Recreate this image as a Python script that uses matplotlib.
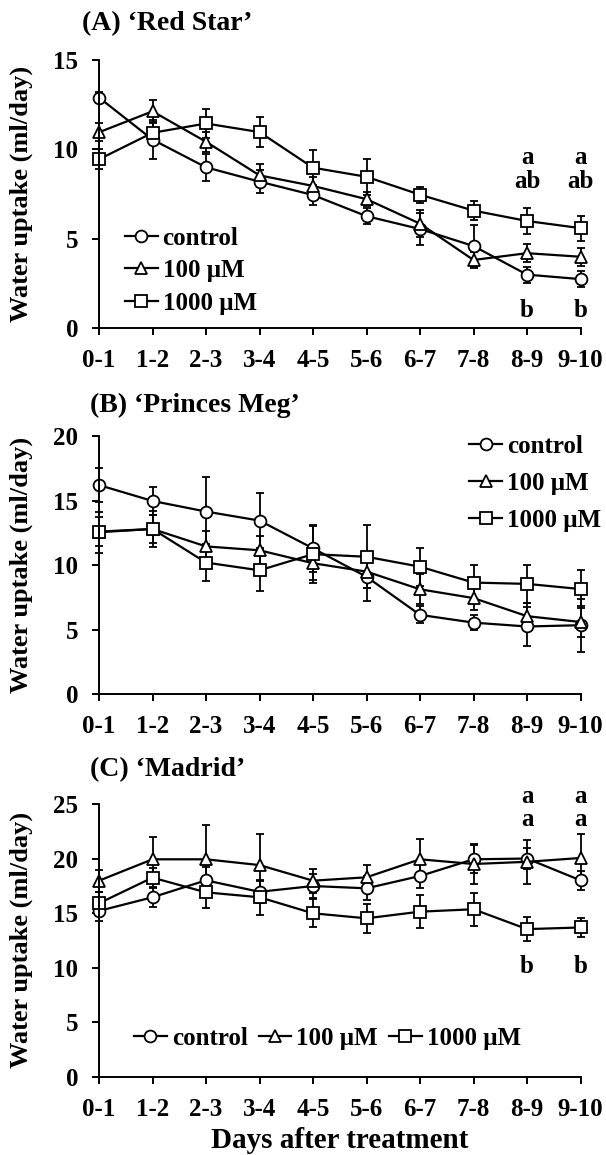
import matplotlib
matplotlib.use("Agg")
import matplotlib.pyplot as plt
import numpy as np

plt.rcParams['font.family'] = ['Liberation Serif', 'DejaVu Serif']
plt.rcParams['font.weight'] = 'bold'

days = ["0-1", "1-2", "2-3", "3-4", "4-5", "5-6", "6-7", "7-8", "8-9", "9-10"]
series_names = ["control", "100 \u03bcM", "1000 \u03bcM"]

# Panel A 'Red Star'
a_control = [12.9, 10.55, 9.0, 8.2, 7.45, 6.27, 5.55, 4.6, 3.0, 2.75]
a_control_err = [0.3, 1.1, 0.75, 0.65, 0.57, 0.43, 0.9, 1.2, 0.45, 0.45]
a_100 = [10.96, 12.13, 10.43, 8.55, 7.96, 7.22, 5.85, 3.82, 4.2, 4.0]
a_100_err = [0.5, 0.65, 0.55, 0.65, 0.5, 0.4, 0.75, 0.47, 0.5, 0.5]
a_1000 = [9.45, 10.93, 11.45, 10.97, 8.98, 8.47, 7.47, 6.58, 6.0, 5.6]
a_1000_err = [0.55, 0.6, 0.8, 0.85, 1.0, 1.0, 0.45, 0.55, 0.7, 0.7]

# Panel B 'Princes Meg'
b_control = [16.2, 14.97, 14.15, 13.45, 11.3, 9.1, 6.15, 5.55, 5.25, 5.35]
b_control_err = [1.3, 1.05, 2.7, 2.15, 1.8, 1.85, 0.65, 0.6, 1.5, 2.05]
b_100 = [12.6, 12.8, 11.45, 11.15, 10.15, 9.5, 8.13, 7.45, 6.05, 5.6]
b_100_err = [1.15, 1.1, 1.2, 1.1, 1.3, 1.3, 1.15, 0.95, 1.0, 1.2]
b_1000 = [12.55, 12.8, 10.2, 9.6, 10.85, 10.65, 9.88, 8.65, 8.55, 8.15]
b_1000_err = [1.6, 1.4, 1.4, 1.6, 2.2, 2.45, 1.47, 1.37, 1.5, 1.5]

# Panel C 'Madrid'
c_control = [15.2, 16.45, 18.0, 16.95, 17.48, 17.27, 18.4, 19.93, 20.0, 18.0]
c_control_err = [0.9, 0.85, 1.2, 1.0, 1.1, 1.1, 1.1, 1.3, 1.0, 0.9]
c_100 = [17.97, 19.93, 19.93, 19.4, 17.97, 18.28, 19.93, 19.5, 19.7, 20.05]
c_100_err = [1.0, 2.07, 3.1, 2.85, 1.1, 1.13, 1.87, 1.84, 2.0, 2.24]
c_1000 = [15.9, 18.25, 16.9, 16.45, 14.98, 14.52, 15.13, 15.35, 13.53, 13.68]
c_1000_err = [1.0, 0.9, 1.47, 1.6, 1.29, 1.32, 1.53, 1.5, 1.08, 0.83]

panel_titles = ["(A) \u2018Red Star\u2019", "(B) \u2018Princes Meg\u2019", "(C) \u2018Madrid\u2019"]
ylims = [15, 20, 25]
ylabel = "Water uptake (ml/day)"
xlabel = "Days after treatment"

# significance letters: (x index, y value, text)
a_letters_x = [8, 8, 8, 9, 9, 9]
a_letters_y = [9.57, 8.18, 0.98, 9.57, 8.18, 0.98]
a_letters = ["a", "ab", "b", "a", "ab", "b"]
c_letters_x = [8, 8, 8, 9, 9, 9]
c_letters_y = [25.7, 23.55, 10.1, 25.7, 23.55, 10.1]
c_letters = ["a", "a", "b", "a", "a", "b"]

W, H = 606, 1155
fig = plt.figure(figsize=(W / 100, H / 100), dpi=100)

def frac_box(top, bottom, left=99, right=580.5):
    return [left / W, 1 - bottom / H, (right - left) / W, (bottom - top) / H]

boxes = [frac_box(60, 328.3), frac_box(436, 694.3), frac_box(804, 1076.7)]
title_pos = [(82, 24), (90, 405), (90, 770)]

data = [
    [(a_control, a_control_err), (a_100, a_100_err), (a_1000, a_1000_err)],
    [(b_control, b_control_err), (b_100, b_100_err), (b_1000, b_1000_err)],
    [(c_control, c_control_err), (c_100, c_100_err), (c_1000, c_1000_err)],
]
markers = ['o', '^', 's']
msizes = [8.5, 8.5, 8.0]
FS = 18
TFS = 20
YFS = 19
XFS = 21

x = np.arange(len(days))
axes = []
leg_anchor = [(0.054, 0.215), (0.769, 0.817), (0.073, 0.141)]
leg_spacing = [0.38, 0.56, 0.2]
for i, box in enumerate(boxes):
    ax = fig.add_axes(box)
    axes.append(ax)
    handles = []
    for (vals, errs), m, ms, name in zip(data[i], markers, msizes, series_names):
        eb = ax.errorbar(x, vals, yerr=errs, fmt='-', color='black', lw=1.6,
                         marker=m, ms=ms, mfc='white', mec='black', mew=1.3,
                         ecolor='black', elinewidth=1.3, capsize=3.2, capthick=1.3,
                         label=name, clip_on=False)
        handles.append(eb)
    ax.set_xlim(0, 9)
    ax.set_ylim(0, ylims[i])
    ax.set_yticks(np.arange(0, ylims[i] + 1, 5))
    ax.set_xticks(x)
    ax.set_xticklabels(days)
    for s in ['top', 'right']:
        ax.spines[s].set_visible(False)
    for s in ['left', 'bottom']:
        ax.spines[s].set_linewidth(1.4)
    ax.tick_params(axis='both', direction='out', length=5, width=1.4, labelsize=FS)
    ax.tick_params(axis='x', pad=10)
    ax.tick_params(axis='y', pad=10)
    for lab in ax.get_xticklabels() + ax.get_yticklabels():
        lab.set_fontweight('bold')
    b = box
    fig.text(21 / W, b[1] + b[3] / 2, ylabel, rotation=90, ha='center', va='center',
             fontsize=YFS, fontweight='bold')
    tx, ty = title_pos[i]
    fig.text(tx / W, 1 - ty / H, panel_titles[i], ha='left', va='center',
             fontsize=TFS, fontweight='bold')

    lhandles = [h[0] for h in handles]
    kw = dict(frameon=False, prop={'weight': 'bold', 'size': FS}, handlelength=1.3,
              handletextpad=0.2, borderpad=0, borderaxespad=0,
              labelspacing=leg_spacing[i],
              loc='center left', bbox_to_anchor=leg_anchor[i])
    if i == 2:
        kw.update(ncol=3, columnspacing=0.45)
    ax.legend(lhandles, series_names, **kw)

for xi, yi, t in zip(a_letters_x, a_letters_y, a_letters):
    axes[0].text(xi, yi, t, ha='center', va='center', fontsize=FS, fontweight='bold', clip_on=False)
for xi, yi, t in zip(c_letters_x, c_letters_y, c_letters):
    axes[2].text(xi, yi, t, ha='center', va='center', fontsize=FS, fontweight='bold', clip_on=False)

fig.text(340 / W, 1 - 1140 / H, xlabel, ha='center', va='center', fontsize=XFS, fontweight='bold')

fig.savefig("out.png", dpi=100)
